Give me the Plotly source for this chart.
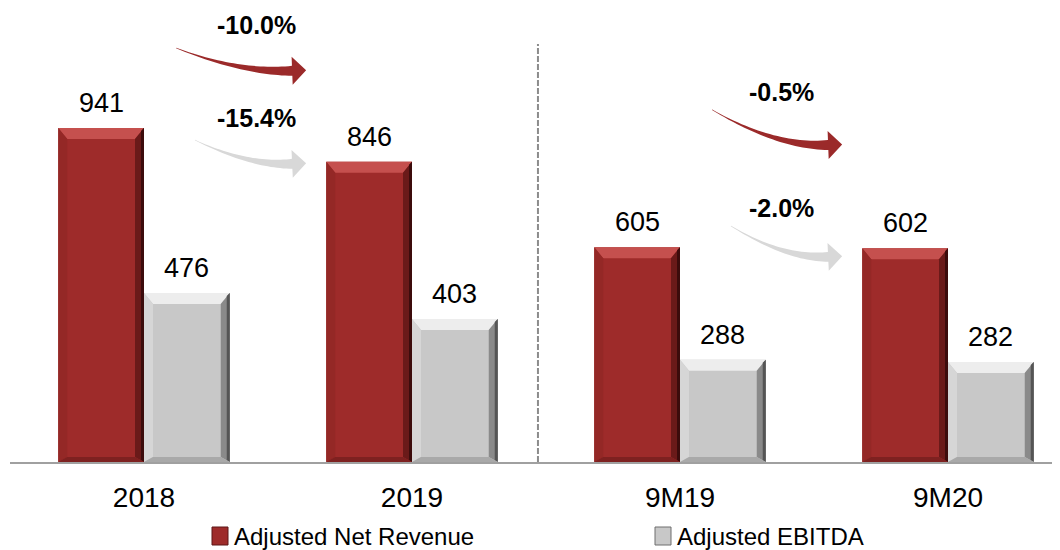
import math
import plotly.graph_objects as go

categories = ["2018", "2019", "9M19", "9M20"]
net_revenue = [941, 846, 605, 602]
ebitda = [476, 403, 288, 282]
series_names = ["Adjusted Net Revenue", "Adjusted EBITDA"]

# growth call-outs: (from category, to category, label)
revenue_growth = [(0, 1, "-10.0%"), (2, 3, "-0.5%")]
ebitda_growth = [(0, 1, "-15.4%"), (2, 3, "-2.0%")]

RED = "#9E2B2A"
GREY = "#C8C8C8"
FONT = "Liberation Sans, Arial"

# the page body adds 8px, so screen positions are figure positions + 8
OFF = 8
W, H = 1060, 550
LEFT, BASE = 10, 462          # screen px of plot left edge / axis line
PW, PH = 1050, BASE - OFF
ML, MT = LEFT - OFF, 0
MR, MB = W - ML - PW, H - MT - PH
SX = 268.0                    # px per category
X0 = -0.5
X1 = X0 + PW / SX
SY = 0.355                    # px per unit
Y1 = PH / SY


def to_px(xd, yd):
    return LEFT + (xd - X0) * SX, BASE - yd * SY


def to_data(px, py):
    return (px - LEFT) / SX + X0, (BASE - py) / SY


def paper(px, py):
    return (px - LEFT) / PW, (BASE - py) / PH


def path(points):
    pts = [to_data(px, py) for px, py in points]
    return "M " + " L ".join(f"{x:.5f},{y:.3f}" for x, y in pts) + " Z"


def bevel_shapes(xc, width, value, light, side, dark, darker, bottom):
    x0, y0 = to_px(xc - width / 2, value)
    x1, y1 = to_px(xc + width / 2, 0)
    bt, bs, bb = 11, 9, 5
    polys = [
        ([(x0, y0), (x1, y0), (x1 - bs, y0 + bt), (x0 + bs, y0 + bt)], light),
        ([(x0, y0), (x0 + bs, y0 + bt), (x0 + bs, y1 - bb), (x0, y1)], side),
        ([(x1, y0), (x1, y1), (x1 - bs, y1 - bb), (x1 - bs, y0 + bt)], dark),
        ([(x1, y0), (x1, y1), (x1 - 3, y1 - 2), (x1 - 3, y0 + 3)], darker),
        ([(x0, y1), (x1, y1), (x1 - bs, y1 - bb), (x0 + bs, y1 - bb)], bottom),
    ]
    return [dict(type="path", xref="x", yref="y", path=path(p), fillcolor=c,
                 line=dict(width=0), layer="above") for p, c in polys]


def arrow_shape(xd0, yd0, xd1, yd1, color, w_end=10, head_w=28, head_l=14):
    p0 = to_px(xd0, yd0)
    tip = to_px(xd1, yd1)
    hb = (tip[0] - head_l, tip[1] - 1)
    c = (p0[0] + 0.55 * (hb[0] - p0[0]), hb[1] + 2)
    upper, lower = [], []
    n = 30
    for i in range(n + 1):
        t = i / n
        bx = (1 - t) ** 2 * p0[0] + 2 * (1 - t) * t * c[0] + t ** 2 * hb[0]
        by = (1 - t) ** 2 * p0[1] + 2 * (1 - t) * t * c[1] + t ** 2 * hb[1]
        dx = 2 * (1 - t) * (c[0] - p0[0]) + 2 * t * (hb[0] - c[0])
        dy = 2 * (1 - t) * (c[1] - p0[1]) + 2 * t * (hb[1] - c[1])
        ln = math.hypot(dx, dy)
        nx, ny = -dy / ln, dx / ln
        hw = (0.6 + (w_end - 0.6) * t ** 1.3) / 2
        upper.append((bx + nx * hw, by + ny * hw))
        lower.append((bx - nx * hw, by - ny * hw))
    dx, dy = hb[0] - c[0], hb[1] - c[1]
    ln = math.hypot(dx, dy)
    ux, uy = dx / ln, dy / ln
    nx, ny = -uy, ux
    head = [(hb[0] + nx * head_w / 2, hb[1] + ny * head_w / 2),
            (hb[0] + ux * head_l, hb[1] + uy * head_l),
            (hb[0] - nx * head_w / 2, hb[1] - ny * head_w / 2)]
    pts = upper + [upper[-1]] + head + lower[::-1]
    return dict(type="path", xref="x", yref="y", path=path(pts), fillcolor=color,
                line=dict(width=0), layer="above")


xs = list(range(len(categories)))
BW = 0.32

fig = go.Figure()
fig.add_trace(go.Bar(x=xs, y=net_revenue, name=series_names[0], width=BW, offset=-BW,
                     marker=dict(color=RED, line=dict(width=0))))
fig.add_trace(go.Bar(x=xs, y=ebitda, name=series_names[1], width=BW, offset=0,
                     marker=dict(color=GREY, line=dict(width=0))))

shapes = []
annotations = []
for i in xs:
    shapes += bevel_shapes(i - BW / 2, BW, net_revenue[i], "#C5504E", "#942826",
                           "#6A1A19", "#3C0C0C", "#7E2120")
    shapes += bevel_shapes(i + BW / 2, BW, ebitda[i], "#EDEDED", "#D6D6D6",
                           "#8A8A8A", "#555555", "#A9A9A9")
    for xc, v in ((i - BW / 2, net_revenue[i]), (i + BW / 2, ebitda[i])):
        annotations.append(dict(x=xc, y=v, text=str(v), showarrow=False, yanchor="bottom",
                                yshift=8, font=dict(size=27, color="#000000", family=FONT)))

# separator between full years and nine-month periods
_, sep_top = paper(0, 44)
shapes.append(dict(type="line", xref="x", yref="paper", x0=1.47, x1=1.47, y0=0, y1=sep_top,
                   line=dict(color="#8C8C8C", width=2, dash="6px,2px"), layer="below"))

arrow_levels = {
    "rev": [(1166, 1099), (992, 890)],
    "ebitda": [(907, 837), (665, 575)],
}
label_levels = {"rev": [1230, 1042], "ebitda": [969, 716]}
label_dx = [0.42, 0.38]

for key, growth, color, tail_dx in (("rev", revenue_growth, "#9B2A2A", 0.12),
                                    ("ebitda", ebitda_growth, "#D8D8D8", 0.19)):
    for k, (a, b, txt) in enumerate(growth):
        ya, yb = arrow_levels[key][k]
        shapes.append(arrow_shape(a + tail_dx, ya, b - 0.395, yb, color))
        annotations.append(dict(x=a + label_dx[k], y=label_levels[key][k], text=f"<b>{txt}</b>",
                                showarrow=False, yanchor="middle",
                                font=dict(size=25, color="#000000", family=FONT)))

# hand-drawn legend below the axis labels
legend_x = [212, 655]
legend_fill = [(RED, "#5C1616"), (GREY, "#6E6E6E")]
for lx, name, (fill, edge) in zip(legend_x, series_names, legend_fill):
    x0, y0 = paper(lx, 545)
    x1, y1 = paper(lx + 16, 527)
    shapes.append(dict(type="rect", xref="paper", yref="paper", x0=x0, x1=x1, y0=y0, y1=y1,
                       fillcolor=fill, line=dict(color=edge, width=1)))
    tx, ty = paper(lx + 20, 536)
    annotations.append(dict(xref="paper", yref="paper", x=tx, y=ty, text=name, showarrow=False,
                            xanchor="left", yanchor="middle",
                            font=dict(size=24, color="#000000", family=FONT)))

fig.update_layout(
    width=W, height=H,
    margin=dict(l=ML, r=MR, t=MT, b=MB),
    paper_bgcolor="white", plot_bgcolor="white",
    barmode="overlay",
    shapes=shapes, annotations=annotations,
    showlegend=False,
    xaxis=dict(range=[X0, X1], tickvals=xs, ticktext=categories, showgrid=False, zeroline=False,
               showline=True, linecolor="#A0A0A0", linewidth=2, ticks="", ticklabelstandoff=9,
               tickfont=dict(size=28, color="#000000", family=FONT),
               fixedrange=True),
    yaxis=dict(range=[0, Y1], visible=False, fixedrange=True),
)

fig.write_html("out.html")
